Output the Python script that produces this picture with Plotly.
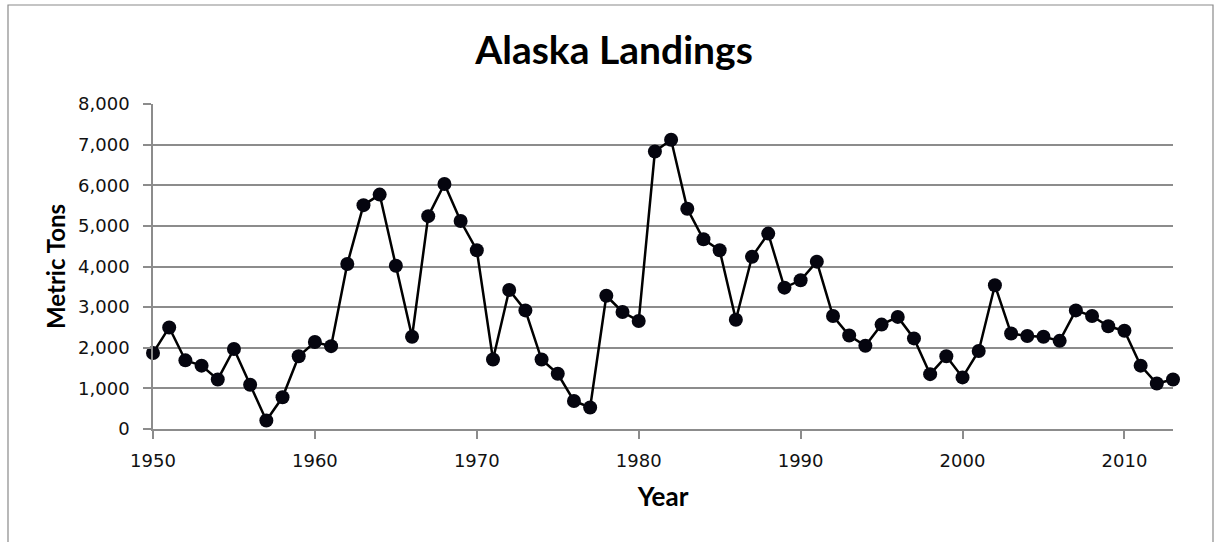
import plotly.graph_objects as go

# Annual Alaska landings, metric tons
years = list(range(1950, 2014))
landings = [
    1870, 2500, 1690, 1560, 1220, 1970, 1090, 210, 780, 1790,
    2140, 2040, 4060, 5510, 5770, 4020, 2270, 5240, 6030, 5120,
    4400, 1710, 3420, 2920, 1710, 1360, 690, 530, 3280, 2880,
    2660, 6830, 7120, 5420, 4670, 4400, 2690, 4240, 4810, 3480,
    3660, 4120, 2780, 2300, 2050, 2570, 2760, 2230, 1350, 1790,
    1270, 1920, 3540, 2350, 2290, 2270, 2170, 2920, 2780, 2530,
    2420, 1560, 1120, 1220,
]

x_ticks = [1950, 1960, 1970, 1980, 1990, 2000, 2010]
y_ticks = [0, 1000, 2000, 3000, 4000, 5000, 6000, 7000, 8000]

W, H = 1216, 542
L, R, T, B = 153, 1173, 104, 429  # plot area in pixels

title_font = "Lato, 'Open Sans', sans-serif"
tick_font = "'DejaVu Sans', Verdana, sans-serif"
grid_col = "#8c8c8c"

fig = go.Figure()
fig.add_trace(go.Scatter(
    x=years, y=landings, mode="lines+markers",
    line=dict(color="#000000", width=2.5),
    marker=dict(color="#05050f", size=14),
    cliponaxis=False, showlegend=False,
))

def px_x(p):
    return (p - L) / (R - L)

def px_y(p):
    return (B - p) / (B - T)

# outer chart border
fig.add_shape(type="rect", xref="paper", yref="paper",
              x0=px_x(8), x1=px_x(1213), y0=px_y(560), y1=px_y(5),
              line=dict(color="#8a8a8a", width=1.2), fillcolor="rgba(0,0,0,0)",
              layer="below")

fig.update_layout(
    width=W, height=H,
    margin=dict(l=L, r=W - R, t=T, b=H - B, pad=0),
    paper_bgcolor="white", plot_bgcolor="white",
    font=dict(family=title_font, color="#000000"),
    title=dict(text="<b>Alaska Landings</b>", x=614 / W, xanchor="center",
               y=1 - 50 / H, yanchor="middle",
               font=dict(size=39, family=title_font, color="#000000")),
    xaxis=dict(
        range=[1950, 2013], tickvals=x_ticks, ticktext=[str(v) for v in x_ticks],
        showgrid=False, zeroline=False,
        showline=True, linecolor=grid_col, linewidth=1.5,
        ticks="outside", ticklen=8, tickcolor=grid_col, tickwidth=1.5,
        ticklabelstandoff=7,
        tickfont=dict(size=18, family=tick_font, color="#111111"),
        title=dict(text="<b>Year</b>", font=dict(size=26, family=title_font), standoff=17),
    ),
    yaxis=dict(
        range=[0, 8000], tickvals=y_ticks, tickformat=",",
        showgrid=True, gridcolor=grid_col, gridwidth=1.5,
        zeroline=False,
        showline=True, linecolor=grid_col, linewidth=1.5,
        ticks="outside", ticklen=8, tickcolor=grid_col, tickwidth=1.5,
        ticklabelstandoff=10,
        tickfont=dict(size=18, family=tick_font, color="#111111"),
        title=dict(text="<b>Metric Tons</b>", font=dict(size=24, family=title_font), standoff=6),
    ),
)

fig.write_html("out.html")
